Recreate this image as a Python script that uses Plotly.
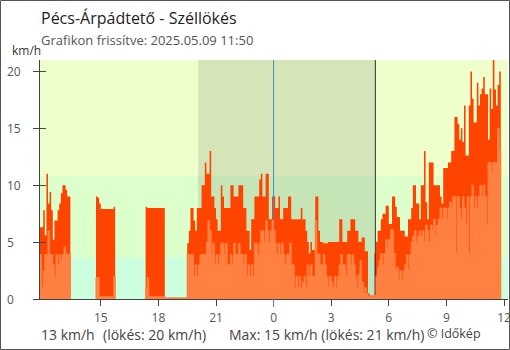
import pandas as pd
import plotly.graph_objects as go

# ---- data: 5-minute samples starting 2025-05-08 11:50 (km/h); None = no data ----
START = pd.Timestamp("2025-05-08 11:50")
STEP = pd.Timedelta(minutes=5)

gust_a = [6.3, 6.3, 7.8, 5.6, 11.0, 8.4, 9.4, 7.8, 5.2, 6.9, 6.9, 7.8, 8.4, 9.3, 10.0, 10.0, 9.6, 9.0, 9.0]
mean_a = [3.9, 1.0, 2.5, 3.9, 3.9, 6.0, 3.9, 3.9, 3.0, 2.0, 3.9, 3.0, 3.9, 3.5, 3.9, 4.6, 4.0, 3.9, 3.9]
gap_a = [None] * 16

gust_b = [9.0, 8.9, 8.4, 7.9, 7.9, 7.9, 7.9, 7.9, 7.9, 7.9, 7.9, 8.1]
mean_b = [1.9, 1.9, 0.2, 0.2, 0.2, 0.2, 0.2, 0.2, 0.2, 0.2, 0.2, 2.0]
gap_b = [None] * 19

gust_c = [8.1, 8.0, 8.0, 8.0, 8.0, 8.0, 8.0, 8.0, 8.0, 8.0, 8.0, 8.0]
mean_c = [1.0, 1.9, 0.2, 0.2, 0.2, 0.2, 0.2, 0.2, 0.2, 0.2, 0.2, 0.2]

gust_d = [0.0, 0.0, 0.0, 0.0, 0.0, 0.0, 0.0, 0.0, 0.0, 0.0, 0.0, 0.0, 0.0, 0.0]
mean_d = [0.1, 0.1, 0.1, 0.1, 0.1, 0.1, 0.1, 0.1, 0.1, 0.1, 0.1, 0.1, 0.1, 0.1]

gust_e = [
    4.9, 6.0, 8.0, 8.0, 6.9, 6.0, 8.0, 8.0, 8.0, 10.0,
    10.0, 12.0, 11.0, 11.0, 13.0, 9.0, 9.0, 8.0, 7.0, 6.0,
    6.0, 10.0, 9.0, 8.0, 8.0, 8.0, 8.0, 10.0, 10.0, 9.0,
    9.0, 9.0, 10.0, 10.0, 10.0, 8.0, 8.0, 6.0, 6.0, 4.3,
    7.0, 7.0, 9.0, 9.0, 9.0, 10.5, 11.0, 9.0, 9.0, 11.0,
    11.0, 7.0, 7.0, 9.0, 9.0, 8.0, 8.0, 9.0, 7.0, 7.0,
    8.0, 8.0, 8.0, 9.0, 9.0, 7.0, 7.0, 7.0, 7.0, 7.0,
    7.0, 8.0, 7.0, 7.0, 6.0, 5.0, 4.0, 5.0, 4.3, 4.3,
    9.0, 9.0, 6.0, 5.0, 5.0, 4.9, 4.9, 4.9, 5.0, 5.0,
    5.0, 5.0, 5.0, 5.0, 5.0, 7.0, 7.0, 5.0, 5.0, 5.0,
    6.0, 6.0, 7.0, 7.0, 7.0, 6.0, 6.0, 5.0, 5.0, 5.4,
    5.4, 4.2, 4.2, 0.5, 0.3, 0.3, 0.3, 4.0, 5.0, 6.0,
    6.0, 7.0, 7.5, 7.5, 8.2, 8.2, 6.6, 6.6, 9.0, 9.0,
    8.1, 7.2, 7.2, 6.0, 6.0, 6.0, 5.5, 5.5, 7.0, 7.0,
    8.0, 10.0, 10.0, 8.4, 8.4, 7.0, 10.0, 10.0, 13.0, 8.5,
    7.0, 12.0, 12.0, 12.0, 10.0, 10.0, 10.0, 10.0, 9.0, 8.4,
    11.5, 11.5, 11.5, 12.0, 12.0, 13.0, 13.0, 16.0, 16.0, 15.4,
    14.0, 15.0, 13.8, 17.0, 12.6, 12.6, 17.0, 20.0, 17.6, 15.5,
    15.5, 19.0, 17.0, 18.0, 18.5, 19.5, 18.0, 18.0, 14.0, 18.5,
    16.7, 21.0, 18.4, 17.0, 18.8, 20.0,
]
mean_e = [
    3.9, 3.9, 3.9, 3.9, 2.0, 3.0, 2.0, 3.0, 3.9, 3.9,
    3.9, 3.9, 5.0, 6.9, 6.0, 3.9, 4.9, 3.0, 3.9, 3.0,
    3.9, 4.9, 4.9, 3.9, 4.9, 3.0, 3.0, 3.9, 3.0, 4.9,
    3.9, 3.9, 4.9, 3.9, 3.9, 3.0, 3.9, 2.0, 3.0, 2.0,
    3.0, 2.0, 4.9, 4.9, 3.9, 4.9, 6.0, 6.0, 4.9, 6.9,
    6.0, 4.9, 6.0, 6.9, 6.0, 4.9, 3.9, 4.9, 3.9, 4.9,
    3.9, 3.0, 3.9, 3.9, 4.9, 3.0, 3.0, 1.0, 2.0, 1.0,
    2.0, 0.9, 1.5, 2.0, 1.0, 3.0, 2.0, 3.0, 2.0, 2.0,
    6.9, 4.0, 3.9, 3.0, 3.0, 3.9, 3.0, 2.0, 1.0, 2.0,
    1.5, 1.0, 2.0, 0.9, 2.0, 3.0, 3.9, 3.0, 3.0, 2.0,
    3.9, 3.9, 3.0, 3.9, 3.0, 2.0, 1.0, 2.2, 3.4, 1.5,
    0.5, 1.0, 0.5, 0.2, 0.2, 0.2, 0.2, 0.3, 2.0, 2.8,
    3.4, 4.0, 3.0, 4.0, 5.2, 4.5, 5.2, 6.1, 6.1, 4.0,
    2.5, 2.8, 1.7, 2.5, 1.7, 2.5, 3.0, 3.9, 2.5, 3.9,
    5.0, 5.5, 6.0, 5.0, 5.5, 6.0, 5.5, 6.0, 5.0, 6.5,
    6.0, 5.0, 6.5, 6.0, 7.0, 5.5, 6.5, 7.0, 8.0, 7.0,
    8.0, 8.0, 7.0, 8.0, 8.5, 8.0, 9.0, 9.0, 4.0, 9.0,
    8.0, 7.0, 9.0, 8.0, 6.5, 9.0, 4.0, 9.0, 10.0, 8.0,
    9.0, 8.0, 9.0, 10.0, 9.0, 10.0, 9.0, 6.5, 12.0, 12.0,
    11.0, 12.0, 12.0, 12.0, 15.0, 13.0,
]

gust = gust_a + gap_a + gust_b + gap_b + gust_c + gust_d + gust_e
mean = mean_a + gap_a + mean_b + gap_b + mean_c + mean_d + mean_e
times = pd.date_range(START, periods=len(gust), freq=STEP)

# background wind bands (km/h) and day/night markers
band_edges = [0, 3.6, 10.8, 21]
band_colors = ["#ccffdd", "#ddffcc", "#eeffcc"]
sunset = pd.Timestamp("2025-05-08 20:04")
sunrise = pd.Timestamp("2025-05-09 05:18")
midnight = pd.Timestamp("2025-05-09 00:00")

tick_times = pd.to_datetime(["2025-05-08 15:00", "2025-05-08 18:00", "2025-05-08 21:00",
                             "2025-05-09 00:00", "2025-05-09 03:00", "2025-05-09 06:00",
                             "2025-05-09 09:00", "2025-05-09 12:00"])
tick_text = ["15", "18", "21", "0", "3", "6", "9", "12"]
y_ticks = [0, 5, 10, 15, 20]

X_END = START + pd.Timedelta(hours=24, minutes=22, seconds=30)
Y_MAX = 21

# ---- layout geometry (pixels) ----
W, H = 510, 350
ML, MR, MT, MB = 40, 2, 60, 51
PW, PH = W - ML - MR, H - MT - MB


def px_x(px):
    return (px - ML) / PW


def px_y(py):
    return (H - MB - py) / PH


def step_area(ts, vals):
    """Closed step polygons (one per run of data), separated by None."""
    xs, ys = [], []
    run = []

    def flush():
        if not run:
            return
        xs.append(run[0][0])
        ys.append(0)
        for t, v in run:
            xs.extend([t, t + STEP])
            ys.extend([v, v])
        xs.append(run[-1][0] + STEP)
        ys.append(0)
        xs.append(None)
        ys.append(None)
        run.clear()

    for t, v in zip(ts, vals):
        if v is None:
            flush()
        else:
            run.append((t, v))
    flush()
    return xs, ys


FONT = "Open Sans"
GUST_COLOR = "#ff4400"
MEAN_COLOR = "#ff8040"

fig = go.Figure()

gx, gy = step_area(times, gust)
fig.add_trace(go.Scatter(x=gx, y=gy, mode="lines", fill="toself",
                         line=dict(width=0, color=GUST_COLOR), fillcolor=GUST_COLOR,
                         hoverinfo="skip", showlegend=False))

# midnight and sunrise markers sit between the gust and mean areas
fig.add_trace(go.Scatter(x=[midnight, midnight], y=[0, Y_MAX], mode="lines",
                         line=dict(color="#3d8fd1", width=1), hoverinfo="skip", showlegend=False))
fig.add_trace(go.Scatter(x=[sunrise, sunrise], y=[0, Y_MAX], mode="lines",
                         line=dict(color="#333333", width=1), hoverinfo="skip", showlegend=False))

mx, my = step_area(times, mean)
fig.add_trace(go.Scatter(x=mx, y=my, mode="lines", fill="toself",
                         line=dict(width=1, color=MEAN_COLOR), fillcolor=MEAN_COLOR,
                         hoverinfo="skip", showlegend=False))

shapes = []
for lo, hi, col in zip(band_edges[:-1], band_edges[1:], band_colors):
    shapes.append(dict(type="rect", xref="paper", yref="y", x0=0, x1=1, y0=lo, y1=hi,
                       fillcolor=col, line=dict(width=0), layer="below"))
shapes.append(dict(type="rect", xref="x", yref="paper", x0=sunset, x1=sunrise, y0=0, y1=1,
                   fillcolor="rgba(0,0,0,0.1)", line=dict(width=0), layer="below"))
# blue tick below the axis at midnight
shapes.append(dict(type="line", xref="x", yref="paper", x0=midnight, x1=midnight,
                   y0=px_y(307), y1=0, line=dict(color="#3d8fd1", width=1), layer="above"))
# frame around the whole graphic
shapes.append(dict(type="rect", xref="paper", yref="paper",
                   x0=px_x(0.5), x1=px_x(W - 0.5), y0=px_y(H - 0.5), y1=px_y(0.5),
                   line=dict(color="#555555", width=1), fillcolor="rgba(0,0,0,0)", layer="above"))

cur_mean, cur_gust = mean[-1], gust[-1]
max_mean = max(v for v in mean if v is not None)
max_gust = max(v for v in gust if v is not None)

annotations = [
    dict(text="Pécs-Árpádtető - Széllökés", x=px_x(40), y=px_y(18),
         font=dict(size=16, color="#222222", family=FONT)),
    dict(text="Grafikon frissítve: 2025.05.09 11:50", x=px_x(40), y=px_y(40),
         font=dict(size=13, color="#555555", family=FONT)),
    dict(text="km/h", x=px_x(11), y=px_y(51),
         font=dict(size=12, color="#333333", family=FONT)),
    dict(text=f"{cur_mean:.0f} km/h", x=px_x(40), y=px_y(334),
         font=dict(size=14, color="#444444", family=FONT)),
    dict(text=f"(lökés: {cur_gust:.0f} km/h)", x=px_x(102), y=px_y(334),
         font=dict(size=14, color="#444444", family=FONT)),
    dict(text=f"Max: {max_mean:.0f} km/h (lökés: {max_gust:.0f} km/h)", x=px_x(228), y=px_y(334),
         font=dict(size=14, color="#444444", family=FONT)),
    dict(text="© Időkép", x=px_x(426), y=px_y(333),
         font=dict(size=12.5, color="#444444", family=FONT)),
]
for a in annotations:
    a.update(xref="paper", yref="paper", xanchor="left", yanchor="middle",
             showarrow=False, borderpad=0)

for v in y_ticks:
    annotations.append(dict(text=str(v), xref="paper", yref="y", x=px_x(6), y=v,
                            xanchor="left", yanchor="middle", showarrow=False, borderpad=0,
                            font=dict(size=12, color="#555555", family=FONT)))

fig.update_layout(
    width=W, height=H, autosize=False,
    margin=dict(l=ML, r=MR, t=MT, b=MB, pad=0),
    paper_bgcolor="white", plot_bgcolor="white",
    shapes=shapes, annotations=annotations,
    xaxis=dict(range=[START, X_END], tickmode="array", tickvals=tick_times, ticktext=tick_text,
               ticks="outside", ticklen=6, tickcolor="#444444", tickwidth=1,
               ticklabeloverflow="allow", ticklabelstandoff=2, automargin=False,
               showline=True, linecolor="#444444", linewidth=1, showgrid=False, zeroline=False,
               tickfont=dict(size=12, color="#555555", family=FONT), fixedrange=True),
    yaxis=dict(range=[0, Y_MAX], tickmode="array", tickvals=y_ticks, showticklabels=False,
               ticks="outside", ticklen=6, tickcolor="#444444", tickwidth=1, automargin=False,
               showline=True, linecolor="#444444", linewidth=1, showgrid=False, zeroline=False,
               fixedrange=True),
    yaxis2=dict(range=[0, Y_MAX], overlaying="y", side="left", tickmode="array", tickvals=y_ticks,
                showticklabels=False, ticks="inside", ticklen=6, tickcolor="#444444", tickwidth=1,
                automargin=False, showline=False, showgrid=False, zeroline=False, fixedrange=True),
    showlegend=False,
)
fig.add_trace(go.Scatter(x=[None], y=[None], yaxis="y2", hoverinfo="skip", showlegend=False))

fig.write_html("out.html", config={"displayModeBar": False})
